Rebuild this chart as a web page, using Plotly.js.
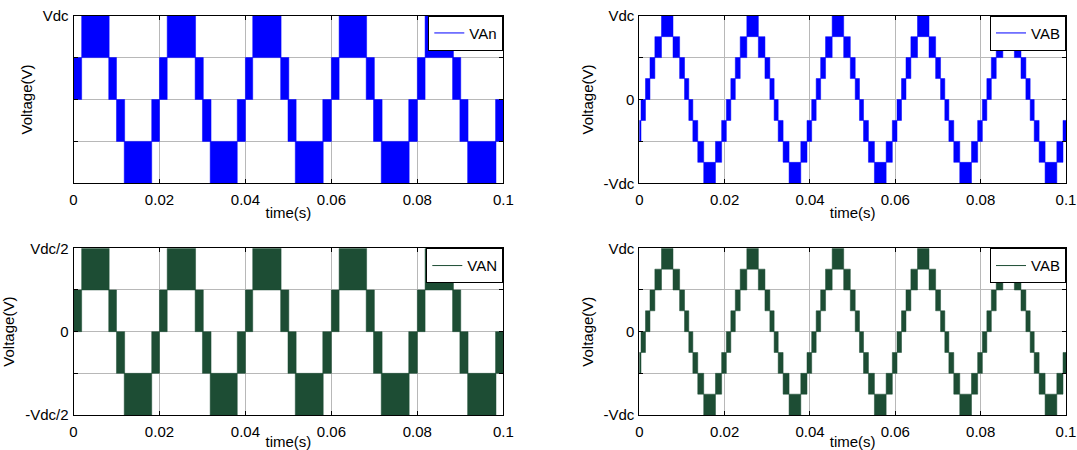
<!DOCTYPE html>
<html>
<head>
<meta charset="utf-8">
<script src="https://cdn.plot.ly/plotly-3.0.1.min.js"></script>
<style>
  html, body { margin: 0; padding: 0; background: #fff; }
  #chart { width: 1077px; height: 450px; }
</style>
</head>
<body>
<div id="chart"></div>
<script>
// Multilevel inverter output: phase voltages (left) and line voltage (right).
// Each PWM switching interval is drawn as a filled block between two adjacent
// voltage levels (levels in units of Vdc, one step = Vdc/4).

const levelStep = 0.25;

// time axis ticks
const timeTicks = [0, 0.02, 0.04, 0.06, 0.08, 0.1];
const timeTickText = ['0', '0.02', '0.04', '0.06', '0.08', '0.1'];

// phase-leg switching blocks (s)
const phaseStart = [
  0.0000, 0.0019, 0.0082, 0.0100, 0.0118, 0.0182,
  0.0200, 0.0218, 0.0283, 0.0300, 0.0318, 0.0381,
  0.0400, 0.0417, 0.0482, 0.0499, 0.0516, 0.0580,
  0.0600, 0.0618, 0.0681, 0.0698, 0.0716, 0.0780,
  0.0800, 0.0818, 0.0882, 0.0899, 0.0917, 0.0982
];
const phaseEnd = [
  0.0019, 0.0083, 0.0100, 0.0119, 0.0182, 0.0200,
  0.0218, 0.0284, 0.0302, 0.0320, 0.0381, 0.0400,
  0.0417, 0.0483, 0.0501, 0.0518, 0.0581, 0.0600,
  0.0618, 0.0682, 0.0700, 0.0718, 0.0781, 0.0800,
  0.0818, 0.0884, 0.0901, 0.0918, 0.0983, 0.1000
];
// lower level of each block, VAn (referred to the negative rail)
const vAnLow = [
  0.5, 0.75, 0.5, 0.25, 0, 0.25,
  0.5, 0.75, 0.5, 0.25, 0, 0.25,
  0.5, 0.75, 0.5, 0.25, 0, 0.25,
  0.5, 0.75, 0.5, 0.25, 0, 0.25,
  0.5, 0.75, 0.5, 0.25, 0, 0.25
];
// lower level of each block, VAN (referred to the dc midpoint)
const vANLow = [
  0, 0.25, 0, -0.25, -0.5, -0.25,
  0, 0.25, 0, -0.25, -0.5, -0.25,
  0, 0.25, 0, -0.25, -0.5, -0.25,
  0, 0.25, 0, -0.25, -0.5, -0.25,
  0, 0.25, 0, -0.25, -0.5, -0.25
];

// line-voltage switching blocks (s)
const lineStart = [
  0.0000,
  0.0004, 0.00145, 0.0025, 0.00365, 0.0052, 0.0079, 0.00945, 0.0106, 0.0116, 0.01255, 0.0137, 0.0151, 0.01785, 0.0193,
  0.0204, 0.02145, 0.0225, 0.02365, 0.0252, 0.0279, 0.02945, 0.0306, 0.0316, 0.03255, 0.0337, 0.0351, 0.03785, 0.0393,
  0.0404, 0.04145, 0.0425, 0.04365, 0.0452, 0.0479, 0.04945, 0.0506, 0.0516, 0.05255, 0.0537, 0.0551, 0.05785, 0.0593,
  0.0604, 0.06145, 0.0625, 0.06365, 0.0652, 0.0679, 0.06945, 0.0706, 0.0716, 0.07255, 0.0737, 0.0751, 0.07785, 0.0793,
  0.0804, 0.08145, 0.0825, 0.08365, 0.0852, 0.0879, 0.08945, 0.0906, 0.0916, 0.09255, 0.0937, 0.0951, 0.09785, 0.0993
];
const lineEnd = [
  0.0004,
  0.00145, 0.0025, 0.00365, 0.0052, 0.0079, 0.00945, 0.0106, 0.0116, 0.01255, 0.0137, 0.0151, 0.01785, 0.0193, 0.0204,
  0.02145, 0.0225, 0.02365, 0.0252, 0.0279, 0.02945, 0.0306, 0.0316, 0.03255, 0.0337, 0.0351, 0.03785, 0.0393, 0.0404,
  0.04145, 0.0425, 0.04365, 0.0452, 0.0479, 0.04945, 0.0506, 0.0516, 0.05255, 0.0537, 0.0551, 0.05785, 0.0593, 0.0604,
  0.06145, 0.0625, 0.06365, 0.0652, 0.0679, 0.06945, 0.0706, 0.0716, 0.07255, 0.0737, 0.0751, 0.07785, 0.0793, 0.0804,
  0.08145, 0.0825, 0.08365, 0.0852, 0.0879, 0.08945, 0.0906, 0.0916, 0.09255, 0.0937, 0.0951, 0.09785, 0.0993, 0.1000
];
const vABLow = [
  -0.5,
  -0.25, 0, 0.25, 0.5, 0.75, 0.5, 0.25, 0, -0.25, -0.5, -0.75, -1, -0.75, -0.5,
  -0.25, 0, 0.25, 0.5, 0.75, 0.5, 0.25, 0, -0.25, -0.5, -0.75, -1, -0.75, -0.5,
  -0.25, 0, 0.25, 0.5, 0.75, 0.5, 0.25, 0, -0.25, -0.5, -0.75, -1, -0.75, -0.5,
  -0.25, 0, 0.25, 0.5, 0.75, 0.5, 0.25, 0, -0.25, -0.5, -0.75, -1, -0.75, -0.5,
  -0.25, 0, 0.25, 0.5, 0.75, 0.5, 0.25, 0, -0.25, -0.5, -0.75, -1, -0.75, -0.5
];

// y tick labels
const vAnTicks = [0, 0.25, 0.5, 0.75, 1];
const vAnTickText = ['', '', '', '', 'Vdc'];
const vANTicks = [-0.5, -0.25, 0, 0.25, 0.5];
const vANTickText = ['-Vdc/2', '', '0', '', 'Vdc/2'];
const vABTicks = [-1, -0.5, 0, 0.5, 1];
const vABTickText = ['-Vdc', '', '0', '', 'Vdc'];

const BLUE = '#0000ff';
const GREEN = '#1d4d34';
const FONT = 'Arial, "Liberation Sans", Helvetica, sans-serif';
const FS = 15;

// closed polygons, one per switching block, separated by gaps
function blocks(starts, ends, lows) {
  const x = [], y = [];
  for (let i = 0; i < starts.length; i++) {
    const lo = lows[i], hi = lows[i] + levelStep;
    x.push(starts[i], ends[i], ends[i], starts[i], starts[i], null);
    y.push(lo, lo, hi, hi, lo, null);
  }
  return { x, y };
}

function waveTrace(b, color, xa, ya) {
  return {
    type: 'scatter', mode: 'lines', x: b.x, y: b.y,
    fill: 'toself', fillcolor: color,
    line: { color: color, width: 0.5 },
    xaxis: xa, yaxis: ya, showlegend: false, hoverinfo: 'skip'
  };
}

function legendTrace(name, color, xa, ya, leg) {
  return {
    type: 'scatter', mode: 'lines', x: [null], y: [null], name: name,
    line: { color: color, width: 1 },
    xaxis: xa, yaxis: ya, legend: leg, showlegend: true
  };
}

const W = 1077, H = 450;
const leftX = [73.5 / W, 503.3 / W];
const rightX = [639.3 / W, 1066 / W];
const topY = [1 - 183.3 / H, 1 - 15.7 / H];
const botY = [1 - 415 / H, 1 - 248.3 / H];

const traces = [
  waveTrace(blocks(phaseStart, phaseEnd, vAnLow), BLUE, 'x', 'y'),
  legendTrace('VAn', BLUE, 'x', 'y', 'legend'),
  waveTrace(blocks(lineStart, lineEnd, vABLow), BLUE, 'x2', 'y2'),
  legendTrace('VAB', BLUE, 'x2', 'y2', 'legend2'),
  waveTrace(blocks(phaseStart, phaseEnd, vANLow), GREEN, 'x3', 'y3'),
  legendTrace('VAN', GREEN, 'x3', 'y3', 'legend3'),
  waveTrace(blocks(lineStart, lineEnd, vABLow), GREEN, 'x4', 'y4'),
  legendTrace('VAB', GREEN, 'x4', 'y4', 'legend4')
];

const axisBase = {
  showline: true, linecolor: '#000', linewidth: 1, mirror: 'ticks',
  ticks: 'inside', ticklen: 4, tickcolor: '#000', tickwidth: 1,
  showgrid: true, gridcolor: '#b8b8b8', gridwidth: 1, zeroline: false,
  tickfont: { family: FONT, size: FS, color: '#000' },
  ticklabeloverflow: 'allow',
  fixedrange: true, automargin: false
};

function xAxis(domain, anchor) {
  return Object.assign({}, axisBase, {
    domain: domain, anchor: anchor, range: [0, 0.1],
    tickmode: 'array', tickvals: timeTicks, ticktext: timeTickText,
    ticklabelstandoff: 3,
    title: { text: 'time(s)', font: { family: FONT, size: FS, color: '#000' }, standoff: 0 }
  });
}

function yAxis(domain, anchor, range, vals, text) {
  return Object.assign({}, axisBase, {
    domain: domain, anchor: anchor, range: range,
    tickmode: 'array', tickvals: vals, ticktext: text,
    ticklabelstandoff: 1,
    title: { text: 'Voltage(V)', font: { family: FONT, size: FS, color: '#000' }, standoff: 6 }
  });
}

function legendAt(xRight, yTop) {
  return {
    x: xRight, y: yTop, xanchor: 'right', yanchor: 'top',
    bgcolor: '#fff', bordercolor: '#000', borderwidth: 1,
    font: { family: FONT, size: FS, color: '#000' },
    itemwidth: 30
  };
}

const layout = {
  width: W, height: H,
  margin: { l: 0, r: 0, t: 0, b: 0 },
  paper_bgcolor: '#fff', plot_bgcolor: '#fff',
  font: { family: FONT, size: FS, color: '#000' },
  xaxis: xAxis(leftX, 'y'),
  yaxis: yAxis(topY, 'x', [0, 1], vAnTicks, vAnTickText),
  xaxis2: xAxis(rightX, 'y2'),
  yaxis2: yAxis(topY, 'x2', [-1, 1], vABTicks, vABTickText),
  xaxis3: xAxis(leftX, 'y3'),
  yaxis3: yAxis(botY, 'x3', [-0.5, 0.5], vANTicks, vANTickText),
  xaxis4: xAxis(rightX, 'y4'),
  yaxis4: yAxis(botY, 'x4', [-1, 1], vABTicks, vABTickText),
  legend: legendAt(leftX[1], topY[1]),
  legend2: legendAt(rightX[1], topY[1]),
  legend3: legendAt(leftX[1], botY[1]),
  legend4: legendAt(rightX[1], botY[1]),
  showlegend: true
};

Plotly.newPlot('chart', traces, layout, { displayModeBar: false, staticPlot: true });
</script>
</body>
</html>
